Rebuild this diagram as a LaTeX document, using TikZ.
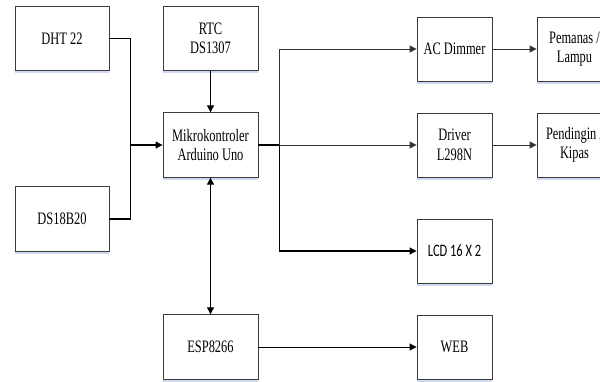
\documentclass[tikz,border=0pt]{standalone}
\usepackage{fontspec}
\usepackage{graphicx}
\setmainfont{Liberation Serif}
\newfontfamily\lcdfont{Carlito}
\newcommand{\sq}[1]{\scalebox{0.71}[1]{#1}}
\usetikzlibrary{arrows.meta,shadows}
\definecolor{boxline}{RGB}{60,60,60}
\definecolor{shadowblue}{RGB}{205,218,240}
\begin{document}
\begin{tikzpicture}[x=1pt,y=-1pt,
  blk/.style={draw=boxline,line width=0.9pt,fill=white,align=center,inner sep=0pt,
    font=\rmfamily\fontsize{17.5}{19.5}\selectfont,
    drop shadow={shadow xshift=0pt,shadow yshift=-2.5pt,fill=shadowblue,opacity=1}},
  wide/.style={blk,minimum width=94pt,minimum height=64.5pt},
  narrow/.style={blk,minimum width=75pt,minimum height=64pt},
  conn/.style={line width=1.1pt,black},
  arr/.style={conn,-{Triangle[length=7pt,width=7pt]}},
  darr/.style={conn,{Triangle[length=7pt,width=7pt]}-{Triangle[length=7pt,width=7pt]}},
  garr/.style={line width=1pt,black!80,-{Triangle[length=7pt,width=7pt]}}]
\useasboundingbox (0,0) rectangle (600,381);
\clip (0,0) rectangle (600,381);
\fill[white] (0,0) rectangle (600,381);
\node[wide] (dht) at (62,38.5) {\sq{DHT 22}};
\node[wide] (ds) at (62,219) {\sq{DS18B20}};
\node[wide,minimum width=95pt] (rtc) at (210.5,38.5) {\sq{RTC}\\\sq{DS1307}};
\node[wide,minimum width=95pt] (mikro) at (210.5,145) {\sq{Mikrokontroler}\\\sq{Arduino Uno}};
\node[wide,minimum width=95pt] (esp) at (210.5,347) {\sq{ESP8266}};
\node[narrow] (ac) at (454.5,49) {\sq{AC Dimmer}};
\node[narrow] (pem) at (574.5,49) {\sq{Pemanas /}\\\sq{Lampu}};
\node[narrow] (drv) at (454.5,145) {\sq{Driver}\\\sq{L298N}};
\node[narrow] (pend) at (574.5,145) {\sq{Pendingin /}\\\sq{Kipas}};
\node[narrow,font=\lcdfont\fontsize{17.5}{19.5}\selectfont] (lcd) at (454.5,251) {\sq{LCD 16 X 2}};
\node[narrow] (web) at (454.5,347) {\sq{WEB}};
\coordinate (jl) at (130.7,145);
\coordinate (jr) at (279.3,145);
\draw[conn] (dht.east) -| (jl);
\draw[conn] (ds.east) -| (jl);
\draw[arr] (jl) -- (mikro.west);
\draw[arr] (rtc.south) -- (mikro.north);
\draw[darr] (mikro.south) -- (esp.north);
\draw[conn] (mikro.east) -- (jr);
\draw[garr] (jr) |- (ac.west);
\draw[garr] (jr) -- (drv.west);
\draw[arr] (jr) |- (lcd.west);
\draw[garr] (ac.east) -- (pem.west);
\draw[garr] (drv.east) -- (pend.west);
\draw[garr,black] (esp.east) -- (web.west);
\end{tikzpicture}
\end{document}
